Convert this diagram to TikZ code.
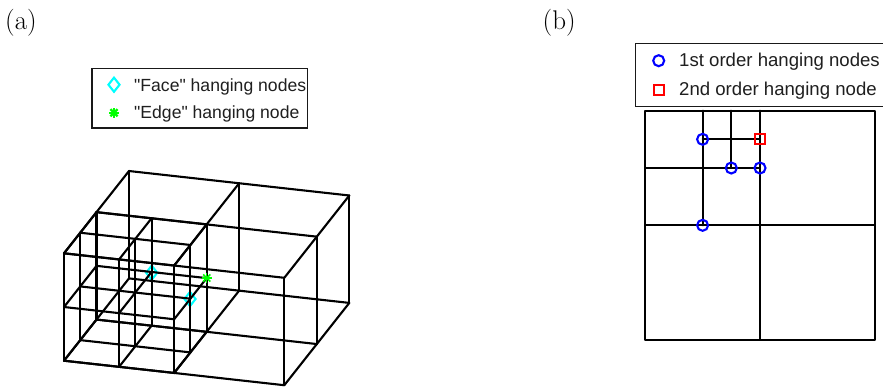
\documentclass[tikz,border=0pt]{standalone}
\usepackage{fontspec}
\newfontfamily\legendfont[Ligatures=ResetAll]{Liberation Sans}
\usetikzlibrary{shapes.geometric}
\definecolor{facecyan}{RGB}{0,255,255}
\definecolor{edgegreen}{RGB}{0,255,0}
\definecolor{firstblue}{RGB}{0,0,255}
\definecolor{secondred}{RGB}{255,0,0}
\tikzset{
  mesh/.style={line width=2.1pt,black,line cap=round,line join=round},
  legendbox/.style={line width=1.3pt,black!90,fill=white},
  legendtexta/.style={font=\legendfont\fontsize{17.6}{20}\selectfont,text=black!88,anchor=base west,inner sep=0pt},
  legendtextb/.style={font=\legendfont\fontsize{18.6}{21}\selectfont,text=black!88,anchor=base west,inner sep=0pt},
  paneltag/.style={font=\fontsize{27}{30}\selectfont,anchor=base west,inner sep=0pt},
  facenode/.style={draw=facecyan,line width=2.1pt,diamond,aspect=0.75,minimum width=12pt,minimum height=15pt,inner sep=0pt},
  firstnode/.style={draw=firstblue,line width=2.1pt,circle,minimum size=11pt,inner sep=0pt},
  secondnode/.style={draw=secondred,line width=2.1pt,rectangle,minimum size=10pt,inner sep=0pt}
}
\newcommand{\edgestar}[3]{%
  \foreach \a in {0,45,90,135}
    \draw[edgegreen,line width=#3] (#1,#2) ++(\a:-5pt) -- ++(\a:10pt);}
\begin{document}
\begin{tikzpicture}[x=1pt,y=-1pt]
\useasboundingbox (0,0) rectangle (883,386);
\clip (0,0) rectangle (883,386);
\fill[white] (0,0) rectangle (883,386);

\node[paneltag] (taga) at (5,29) {(a)};
\node[paneltag] (tagb) at (542.5,29) {(b)};

% ---------- panel (a): face nodes lie under the mesh
\node[facenode] (f1) at (151.7,272.7) {};
\node[facenode] (f2) at (190,299) {};

\begin{scope}[shift={(64,360.7)},x={(220.3pt,-24.5pt)},y={(65pt,82.3pt)},z={(0pt,107.4pt)},mesh]
  % coarse cells
  \foreach \u in {0,0.5,1} \foreach \v in {0,0.5,1}
    \draw (\u,\v,0) -- (\u,\v,1);
  \foreach \w in {0,1} {
    \foreach \v in {0,0.5,1} \draw (0,\v,\w) -- (1,\v,\w);
    \foreach \u in {0,0.5,1} \draw (\u,0,\w) -- (\u,1,\w);
  }
  % refined column
  \foreach \u in {0,0.25,0.5} \foreach \v in {0,0.25,0.5}
    \draw (\u,\v,0) -- (\u,\v,1);
  \foreach \w in {0,0.5,1} {
    \foreach \v in {0,0.25,0.5} \draw (0,\v,\w) -- (0.5,\v,\w);
    \foreach \u in {0,0.25,0.5} \draw (\u,0,\w) -- (\u,0.5,\w);
  }
\end{scope}
\edgestar{206.7}{278}{1.5pt}

% legend (a)
\draw[legendbox] (92,68.7) rectangle (307.3,128);
\node[facenode] (lf) at (114,84.7) {};
\edgestar{114}{112.7}{2.2pt}
\node[legendtexta] (la1) at (134,91.3) {"Face" hanging nodes};
\node[legendtexta] (la2) at (134,118.3) {"Edge" hanging node};

% ---------- panel (b)
\begin{scope}[mesh]
  \draw (645.3,110.7) rectangle (874.7,339.9);
  \draw (760,110.7) -- (760,339.9);
  \draw (645.3,225.3) -- (874.7,225.3);
  \draw (702.6,110.7) -- (702.6,225.3);
  \draw (731.3,110.7) -- (731.3,168);
  \draw (645.3,168) -- (760,168);
  \draw (702.6,139.3) -- (760,139.3);
\end{scope}
\node[firstnode] (c1) at (702.6,139.3) {};
\node[firstnode] (c2) at (731.3,168) {};
\node[firstnode] (c3) at (760,168) {};
\node[firstnode] (c4) at (702.6,225.3) {};
\node[secondnode] (s1) at (760,139.3) {};

% legend (b)
\draw[legendbox] (635.5,43.7) rectangle (895,106.3);
\node[firstnode] (lc) at (658.7,60.7) {};
\node[secondnode] (ls) at (658.7,90) {};
\node[legendtextb] (lb1) at (679,66.3) {1st order hanging nodes};
\node[legendtextb] (lb2) at (679,95.3) {2nd order hanging node};
\end{tikzpicture}
\end{document}
